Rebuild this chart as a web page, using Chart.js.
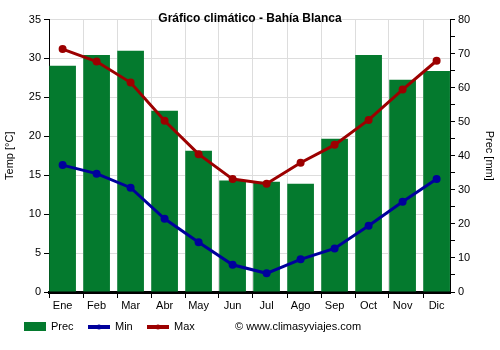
<!DOCTYPE html>
<html>
<head>
<meta charset="utf-8">
<script src="https://cdn.jsdelivr.net/npm/chart.js@4"></script>
<style>
  html, body { margin: 0; padding: 0; background: #ffffff; }
  #wrap { width: 500px; height: 350px; }
</style>
</head>
<body>
<div id="wrap"><canvas id="climate"></canvas></div>
<script>
const months = ['Ene', 'Feb', 'Mar', 'Abr', 'May', 'Jun', 'Jul', 'Ago', 'Sep', 'Oct', 'Nov', 'Dic'];
const precMm = [66.4, 69.6, 70.8, 53.2, 41.5, 32.7, 32.4, 31.8, 45.0, 69.6, 62.3, 64.9];
const minC = [16.3, 15.2, 13.4, 9.4, 6.4, 3.5, 2.4, 4.2, 5.6, 8.5, 11.6, 14.5];
const maxC = [31.2, 29.6, 26.9, 22.0, 17.7, 14.5, 13.9, 16.6, 18.9, 22.1, 26.0, 29.7];
const tempTicks = [0, 35, 5];
const precTicks = [0, 80, 5];

const FONT = "'Liberation Sans', Arial, sans-serif";
const GREEN = '#047a2e';
const BLUE = '#00009c';
const RED = '#9c0000';

// month slots are 34px wide, the bar sits at the left of its slot
const X_SHIFT = 0.4;

function points(values) {
  return values.map((v, i) => ({ x: i, y: v }));
}

const bottomLegend = {
  id: 'bottomLegend',
  afterDraw(chart) {
    const { ctx } = chart;
    const y = 327;
    ctx.save();
    ctx.font = `11px ${FONT}`;
    ctx.textBaseline = 'middle';
    ctx.fillStyle = GREEN;
    ctx.fillRect(24, 322, 22, 9);
    ctx.fillStyle = '#000';
    ctx.fillText('Prec', 51, y);

    [[88, BLUE, 'Min'], [147, RED, 'Max']].forEach(([x, color, label]) => {
      ctx.strokeStyle = color;
      ctx.fillStyle = color;
      ctx.lineWidth = 4;
      ctx.beginPath();
      ctx.moveTo(x, y);
      ctx.lineTo(x + 22, y);
      ctx.stroke();
      ctx.beginPath();
      ctx.arc(x + 11, y, 2.5, 0, Math.PI * 2);
      ctx.fill();
      ctx.fillStyle = '#000';
      ctx.fillText(label, x + 27, y);
    });

    ctx.fillText('\u00a9 www.climasyviajes.com', 235, y);
    ctx.restore();
  }
};

new Chart(document.getElementById('climate').getContext('2d'), {
  type: 'bar',
  data: {
    datasets: [
      {
        type: 'line',
        label: 'Max',
        data: points(maxC),
        yAxisID: 'y',
        borderColor: RED,
        backgroundColor: RED,
        borderWidth: 3,
        pointRadius: 4,
        pointBorderWidth: 0,
        pointHoverRadius: 4,
        tension: 0,
        order: 1
      },
      {
        type: 'line',
        label: 'Min',
        data: points(minC),
        yAxisID: 'y',
        borderColor: BLUE,
        backgroundColor: BLUE,
        borderWidth: 3,
        pointRadius: 4,
        pointBorderWidth: 0,
        pointHoverRadius: 4,
        tension: 0,
        order: 2
      },
      {
        type: 'bar',
        label: 'Prec',
        data: points(precMm),
        yAxisID: 'y1',
        backgroundColor: GREEN,
        borderWidth: 0,
        categoryPercentage: 1,
        barPercentage: 0.785,
        order: 3
      }
    ]
  },
  options: {
    responsive: true,
    maintainAspectRatio: false,
    animation: false,
    layout: { padding: 0 },
    plugins: {
      legend: { display: false },
      tooltip: { enabled: false },
      title: {
        display: true,
        text: 'Gráfico climático - Bahía Blanca',
        color: '#000',
        font: { family: FONT, size: 12, weight: 'bold' },
        padding: { top: 11, bottom: -5.9 }
      }
    },
    scales: {
      x: {
        type: 'linear',
        position: 'bottom',
        min: -X_SHIFT,
        max: 401 / 34 - X_SHIFT,
        offset: false,
        afterBuildTicks(axis) {
          axis.ticks = months.map((m, i) => ({ value: i - X_SHIFT }));
        },
        afterFit(axis) {
          axis.height = 58;
        },
        grid: {
          offset: false,
          color: (ctx) => (ctx.index === 0 ? 'rgba(0,0,0,0)' : '#dddddd'),
          tickColor: '#000',
          tickLength: 6
        },
        border: { color: '#000', width: 3 },
        ticks: {
          autoSkip: false,
          maxRotation: 0,
          labelOffset: 13.6,
          padding: 1,
          color: '#000',
          font: { family: FONT, size: 11 },
          callback: (value, index) => months[index]
        }
      },
      y: {
        position: 'left',
        min: tempTicks[0],
        max: tempTicks[1],
        afterFit(axis) {
          axis.width = 49;
        },
        grid: { color: '#dddddd', tickColor: '#000', tickLength: 5 },
        border: { color: '#000' },
        ticks: {
          stepSize: tempTicks[2],
          padding: 3,
          color: '#000',
          font: { family: FONT, size: 11 }
        },
        title: {
          display: true,
          text: 'Temp [°C]',
          color: '#000',
          font: { family: FONT, size: 11 },
          padding: { top: 3.5, bottom: 0 }
        }
      },
      y1: {
        position: 'right',
        min: precTicks[0],
        max: precTicks[1],
        afterFit(axis) {
          axis.width = 50;
        },
        grid: { drawOnChartArea: false, tickColor: '#000', tickLength: 5 },
        border: { color: '#000' },
        ticks: {
          stepSize: precTicks[2],
          padding: 3,
          color: '#000',
          font: { family: FONT, size: 11 },
          callback: (value) => (value % 10 === 0 ? value : '')
        },
        title: {
          display: true,
          text: 'Prec [mm]',
          color: '#000',
          font: { family: FONT, size: 11 },
          padding: { top: 4, bottom: 0 }
        }
      }
    }
  },
  plugins: [bottomLegend]
});
</script>
</body>
</html>
